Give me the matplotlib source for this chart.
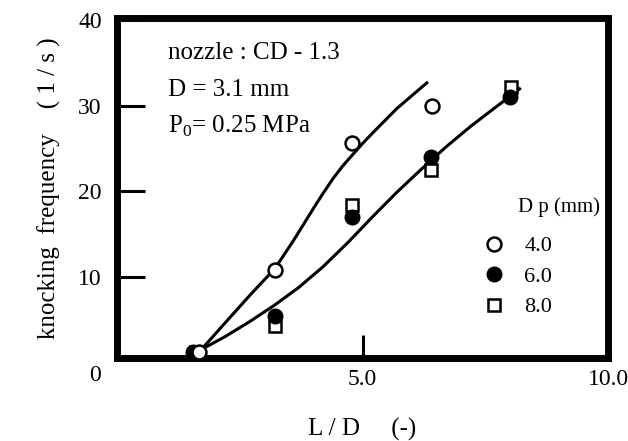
import matplotlib
matplotlib.use("Agg")
from matplotlib import pyplot as plt

plt.rcParams['font.family'] = ['Liberation Serif', 'DejaVu Serif']
plt.rcParams['mathtext.fontset'] = 'custom'
plt.rcParams['mathtext.rm'] = 'Liberation Serif'

# measured points, Dp = 4.0 / 6.0 / 8.0 mm
ld_4 = [1.67, 3.22, 4.79, 6.42]
f_4 = [1.2, 10.8, 25.7, 30.0]
ld_6 = [1.55, 3.22, 4.79, 6.40, 8.00]
f_6 = [1.2, 5.4, 17.0, 24.0, 31.0]
ld_8 = [1.60, 3.22, 4.79, 6.40, 8.02]
f_8 = [1.2, 4.2, 18.4, 22.5, 32.2]

# hand drawn trend curves
upper_x = [1.72, 2.2, 2.7, 3.22, 3.6, 4.0, 4.2, 4.4, 4.6, 4.8, 5.0, 5.2, 5.7, 6.31]
upper_y = [1.5, 4.6, 7.8, 11.0, 14.3, 18.0, 19.8, 21.5, 23.0, 24.3, 25.6, 26.8, 29.7, 32.7]
lower_x = [1.72, 2.2, 2.7, 3.2, 3.7, 4.2, 4.7, 5.2, 5.7, 6.2, 6.7, 7.2, 7.7, 8.0, 8.2]
lower_y = [1.5, 3.0, 4.75, 6.65, 8.75, 11.2, 14.0, 17.0, 19.9, 22.6, 25.2, 27.6, 29.8, 31.1, 32.0]

xticks = [0, 5, 10]
xticklabels = ['', '5.0', '10.0']
yticks = [10, 20, 30, 40]
yticklabels = ['10', '20', '30', '40']

fig = plt.figure(figsize=(6.28, 4.41), dpi=100)
ax = fig.add_axes([117/628, (441-358)/441, (608-117)/628, (358-17.5)/441])

ax.plot(upper_x, upper_y, color='black', lw=2.2, zorder=2)
ax.plot(lower_x, lower_y, color='black', lw=2.2, zorder=2)

ax.plot(ld_8, f_8, 's', ms=9, mfc='white', mec='black', mew=1.8, zorder=3, label='8.0')
ax.plot(ld_6, f_6, 'o', ms=10, mfc='black', mec='black', mew=1.5, zorder=4, label='6.0')
ax.plot(ld_4, f_4, 'o', ms=10, mfc='white', mec='black', mew=1.8, zorder=5, label='4.0')

ax.set_xlim(0, 10)
ax.set_ylim(0.5, 40.35)
ax.set_xticks(xticks)
ax.set_xticklabels(xticklabels, fontsize=17)
ax.set_yticks(yticks)
ax.set_yticklabels(yticklabels, fontsize=17)
ax.tick_params(axis='y', direction='in', length=20, width=2.2, pad=11)
ax.tick_params(axis='x', direction='in', length=16.5, width=2.2, pad=8)
for s in ax.spines.values():
    s.set_linewidth(5)

ax.text(-0.045, -0.05, '0', transform=ax.transAxes, ha='center', va='center', fontsize=17)

ax.set_ylabel('knocking  frequency    ( 1 / s )', fontsize=18, labelpad=12)
ax.set_xlabel('L / D     (-)', fontsize=18, labelpad=20)

ax.text(1.04, 35.5, 'nozzle : CD - 1.3', fontsize=18)
ax.text(1.04, 31.2, 'D = 3.1 mm', fontsize=18)
ax.text(1.04, 26.9, r'P$_{\rm 0}$= 0.25 MPa', fontsize=18)

ax.text(8.17, 18.1, 'D p (mm)', fontsize=15, va='center')
h, l = ax.get_legend_handles_labels()
ax.legend(h[::-1], l[::-1], loc='upper left', bbox_to_anchor=(0.728, 0.385), frameon=False,
          fontsize=16, handlelength=1.0, handletextpad=0.85, labelspacing=0.45, borderaxespad=0)

fig.savefig('out.png', dpi=100)
